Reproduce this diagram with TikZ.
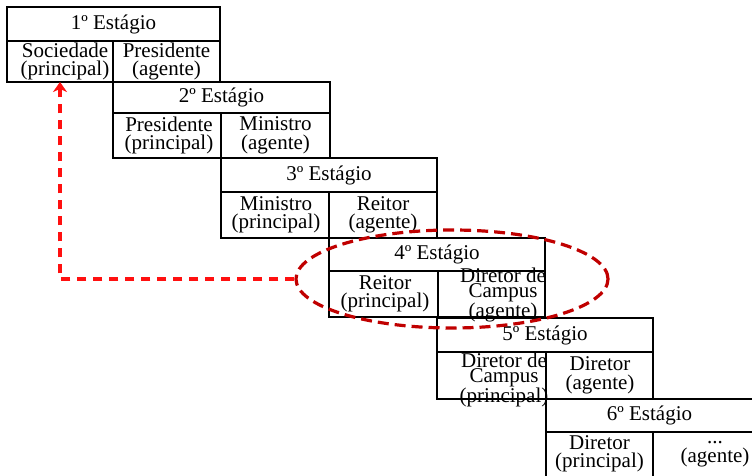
\documentclass[tikz,border=0pt]{standalone}
\usepackage{fontspec}
\setmainfont{Liberation Serif}
\usetikzlibrary{shapes.geometric,arrows.meta}
\definecolor{ellred}{HTML}{C00000}
\definecolor{arrred}{HTML}{FF1010}
\begin{document}
\begin{tikzpicture}[x=1pt,y=-1pt,
  box/.style={draw,line width=2pt,rectangle,inner sep=0pt,outer sep=0pt,anchor=north west,
    font=\fontsize{21}{18.5}\selectfont,align=center},
  txt/.style={inner sep=0pt,font=\fontsize{21}{18.5}\selectfont,align=center},
  tight/.style={inner sep=0pt,font=\fontsize{21}{12.5}\selectfont,align=center},
  ellsty/.style={draw=ellred,line width=3.2pt,dash pattern=on 11pt off 6pt,ellipse,inner sep=0pt},
  conn/.style={draw=arrred,line width=3.2pt,dash pattern=on 9pt off 7pt,-{Stealth[length=10pt,width=14pt,inset=3pt]}}
]
\useasboundingbox (0,0) rectangle (752,476);
\clip (0,0) rectangle (752,476);
% Stage 1
\node[box,minimum width=213pt,minimum height=34pt] (h1) at (7,7) {};
\node[txt] (t1) at (113.5,24) {1º Estágio};
\node[box,minimum width=106pt,minimum height=41pt] (a1) at (7,41) {};
\node[box,minimum width=107pt,minimum height=41pt] (b1) at (113,41) {};
\node[txt] (ta1) at (65,61.5) {Sociedade\\(principal)};
\node[txt] (tb1) at (166.5,61.5) {Presidente\\(agente)};
% Stage 2
\node[box,minimum width=217pt,minimum height=31pt] (h2) at (113,82) {};
\node[txt] (t2) at (221.5,97.5) {2º Estágio};
\node[box,minimum width=108pt,minimum height=45pt] (a2) at (113,113) {};
\node[box,minimum width=109pt,minimum height=45pt] (b2) at (221,113) {};
\node[txt] (ta2) at (169,135.5) {Presidente\\(principal)};
\node[txt] (tb2) at (275.5,135.5) {Ministro\\(agente)};
% Stage 3
\node[box,minimum width=216pt,minimum height=34pt] (h3) at (221,158) {};
\node[txt] (t3) at (329,175) {3º Estágio};
\node[box,minimum width=108pt,minimum height=46pt] (a3) at (221,192) {};
\node[box,minimum width=108pt,minimum height=46pt] (b3) at (329,192) {};
\node[txt] (ta3) at (276,215) {Ministro\\(principal)};
\node[txt] (tb3) at (383,215) {Reitor\\(agente)};
% Stage 4
\node[box,minimum width=216pt,minimum height=33pt] (h4) at (329,238) {};
\node[txt] (t4) at (437,254.5) {4º Estágio};
\node[box,minimum width=109pt,minimum height=46pt] (a4) at (329,271) {};
\node[box,minimum width=107pt,minimum height=46pt] (b4) at (438,271) {};
\node[txt] (ta4) at (385,294) {Reitor\\(principal)};
\node[tight] (tb4) at (503,295) {Diretor de\\Campus\\(agente)};
% Stage 5
\node[box,minimum width=216pt,minimum height=34pt] (h5) at (437,318) {};
\node[txt] (t5) at (545,335) {5º Estágio};
\node[box,minimum width=109pt,minimum height=47pt] (a5) at (437,352) {};
\node[box,minimum width=107pt,minimum height=47pt] (b5) at (546,352) {};
\node[tight] (ta5) at (504,380) {Diretor de\\Campus\\(principal)};
\node[txt] (tb5) at (600,375.5) {Diretor\\(agente)};
% Stage 6
\node[box,minimum width=207pt,minimum height=33pt] (h6) at (546,399) {};
\node[txt] (t6) at (649.5,415.5) {6º Estágio};
\node[box,minimum width=107pt,minimum height=60pt] (a6) at (546,432) {};
\node[box,minimum width=100pt,minimum height=60pt] (b6) at (653,432) {};
\node[txt] (ta6) at (599.5,454) {Diretor\\(principal)};
\node[txt] (tb6) at (715,454) {...\\(agente)};
% highlight
\node[ellsty,minimum width=312pt,minimum height=98pt] (ell) at (452,279) {};
\draw[conn] (ell.west) -| (a1.south);
\end{tikzpicture}
\end{document}
